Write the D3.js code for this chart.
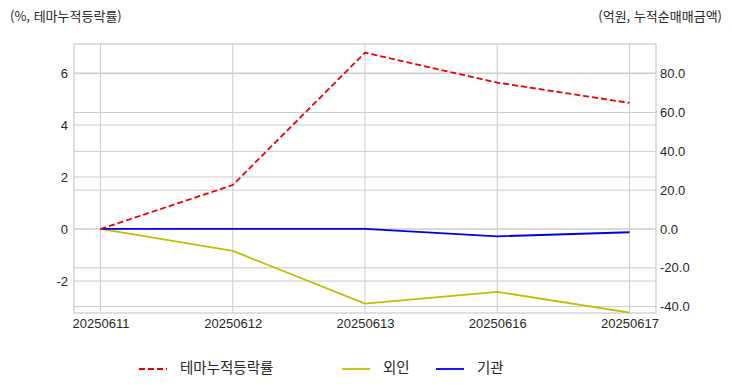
<!DOCTYPE html>
<html lang="ko">
<head>
<meta charset="utf-8">
<title>테마누적등락률</title>
<script src="https://cdn.jsdelivr.net/npm/d3@7"></script>
<style>
  body { margin: 0; background: #fff; }
  .axis text { font-family: "Liberation Sans", Arial, sans-serif; font-size: 13px; fill: #262626; }
  .axis path, .axis line { display: none; }
  .grid line { stroke: #cccccc; stroke-width: 1; }
  .note { font-family: "Noto Sans CJK KR", sans-serif; font-size: 13px; fill: #262626; dominant-baseline: middle; }
  .legend { font-family: "Noto Sans CJK KR", sans-serif; font-size: 14.5px; fill: #262626; dominant-baseline: middle; }
</style>
</head>
<body>
<script>
var dates = ["20250611", "20250612", "20250613", "20250616", "20250617"];
var themeRate = [0, 1.69, 6.78, 5.63, 4.85];
var foreign = [0, -11.3, -38.5, -32.4, -43.1];
var institution = [0, 0, 0, -3.8, -1.7];
var leftTicks = [-2, 0, 2, 4, 6];
var rightTicks = [-40, -20, 0, 20, 40, 60, 80];

var w = 732, h = 392;
var padL = 74, padR = 656, padT = 44, padB = 313;

var svg = d3.select("body").append("svg").attr("width", w).attr("height", h);

// 5% margins on each side like matplotlib
var x = d3.scaleLinear().domain([-0.2, dates.length - 1 + 0.2]).range([padL, padR]);
var yL = d3.scaleLinear().domain([-3.23, 7.115]).range([padB, padT]);
var yR = d3.scaleLinear().domain([-43.3, 95.3]).range([padB, padT]);

var grid = svg.append("g").attr("class", "grid");
grid.selectAll(".gx").data(dates).enter().append("line")
  .attr("x1", function(d, i) { return x(i); }).attr("x2", function(d, i) { return x(i); })
  .attr("y1", padT).attr("y2", padB);
grid.selectAll(".gl").data(leftTicks).enter().append("line")
  .attr("x1", padL).attr("x2", padR)
  .attr("y1", function(d) { return yL(d); }).attr("y2", function(d) { return yL(d); });
grid.selectAll(".gr").data(rightTicks).enter().append("line")
  .attr("x1", padL).attr("x2", padR)
  .attr("y1", function(d) { return yR(d); }).attr("y2", function(d) { return yR(d); });

svg.append("defs").append("clipPath").attr("id", "clip")
  .append("rect").attr("x", padL).attr("y", padT).attr("width", padR - padL).attr("height", padB - padT);

// axes (plain hyphen for negatives)
var fmtL = function(d) { return String(d); };
var fmtR = function(d) { return d3.format(".1f")(d).replace("−", "-"); };
svg.append("g").attr("class", "axis")
  .attr("transform", "translate(" + padL + ",0)")
  .call(d3.axisLeft(yL).tickValues(leftTicks).tickFormat(fmtL).tickSize(0).tickPadding(6));
svg.append("g").attr("class", "axis")
  .attr("transform", "translate(" + padR + ",0)")
  .call(d3.axisRight(yR).tickValues(rightTicks).tickFormat(fmtR).tickSize(0).tickPadding(4));
svg.append("g").attr("class", "axis")
  .attr("transform", "translate(0," + padB + ")")
  .call(d3.axisBottom(x).tickValues(d3.range(dates.length)).tickFormat(function(i) { return dates[i]; }).tickSize(0).tickPadding(6));

// frame
svg.append("rect").attr("x", padL).attr("y", padT).attr("width", padR - padL).attr("height", padB - padT)
  .attr("fill", "none").attr("stroke", "#cccccc").attr("stroke-width", 1.25);

var lineL = d3.line().x(function(d, i) { return x(i); }).y(function(d) { return yL(d); });
var lineR = d3.line().x(function(d, i) { return x(i); }).y(function(d) { return yR(d); });

var plot = svg.append("g").attr("clip-path", "url(#clip)");
plot.append("path").datum(foreign).attr("d", lineR)
  .attr("fill", "none").attr("stroke", "#bfbf00").attr("stroke-width", 1.8);
plot.append("path").datum(institution).attr("d", lineR)
  .attr("fill", "none").attr("stroke", "#0000ee").attr("stroke-width", 1.8);
plot.append("path").datum(themeRate).attr("d", lineL)
  .attr("fill", "none").attr("stroke", "#ee0000").attr("stroke-width", 1.8).attr("stroke-dasharray", "6,3");

// axis notes
svg.append("text").attr("class", "note").attr("x", 10).attr("y", 17).text("(%, 테마누적등락률)");
svg.append("text").attr("class", "note").attr("x", 722).attr("y", 17).attr("text-anchor", "end").text("(억원, 누적순매매금액)");

// legend
var legendItems = [
  { name: "테마누적등락률", color: "#ee0000", dash: "6,3", x: 139 },
  { name: "외인", color: "#bfbf00", dash: null, x: 342 },
  { name: "기관", color: "#0000ee", dash: null, x: 436 }
];
var lg = svg.selectAll(".lg").data(legendItems).enter().append("g")
  .attr("transform", function(d) { return "translate(" + d.x + ",369)"; });
lg.append("line").attr("x1", 0).attr("x2", 28).attr("y1", 0).attr("y2", 0)
  .attr("stroke", function(d) { return d.color; }).attr("stroke-width", 1.8)
  .attr("stroke-dasharray", function(d) { return d.dash; });
lg.append("text").attr("class", "legend").attr("x", 41).attr("y", 0).text(function(d) { return d.name; });
</script>
</body>
</html>
